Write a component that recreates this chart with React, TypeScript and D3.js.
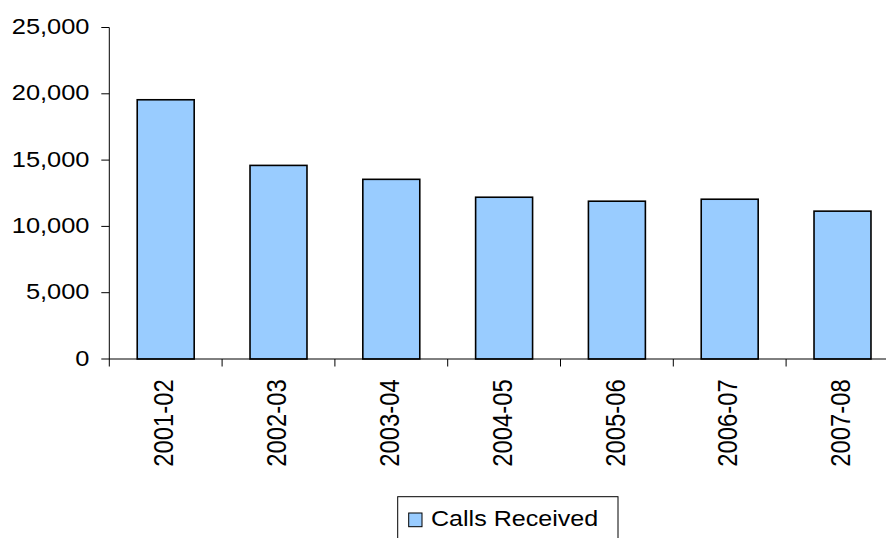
import React from "react";
import * as d3 from "d3";

// Calls received per financial year
const categories: string[] = ["2001-02", "2002-03", "2003-04", "2004-05", "2005-06", "2006-07", "2007-08"];
const callsReceived: number[] = [19550, 14600, 13550, 12200, 11900, 12050, 11150];
const yTicks: number[] = [0, 5000, 10000, 15000, 20000, 25000];
const seriesName = "Calls Received";

const W = 886;
const H = 538;
const SX = 1.14; // horizontal text stretch
const FONT = "'Liberation Sans', Arial, Helvetica, sans-serif";

export default function App() {
  const left = 109.3;
  const step = 112.8;
  const x = d3
    .scaleBand<string>()
    .domain(categories)
    .range([left, left + step * categories.length])
    .paddingInner(0.495)
    .paddingOuter(0.2475);
  const y = d3.scaleLinear().domain([0, 25000]).range([359, 27.5]);
  const fmt = d3.format(",");
  const y0 = y(0);

  return (
    <svg
      width={W}
      height={H}
      style={{ position: "absolute", left: 0, top: 0, display: "block", background: "#fff" }}
      fontFamily={FONT}
    >
      {/* bars */}
      {categories.map((c, i) => (
        <rect
          key={c}
          x={x(c)!}
          y={y(callsReceived[i])}
          width={x.bandwidth()}
          height={y0 - y(callsReceived[i])}
          fill="#99ccff"
          stroke="#000"
          strokeWidth={1.6}
        />
      ))}

      {/* y axis */}
      <line x1={left} x2={left} y1={y(25000)} y2={y0} stroke="#000" strokeWidth={1} />
      {yTicks.map((t) => (
        <g key={t}>
          <line x1={left - 8} x2={left} y1={y(t)} y2={y(t)} stroke="#000" strokeWidth={1} />
          <text
            transform={`translate(${89.5},${y(t) + 6.5}) scale(${SX},1)`}
            textAnchor="end"
            fontSize={22.3}
            fill="#000"
          >
            {fmt(t)}
          </text>
        </g>
      ))}

      {/* x axis */}
      <line x1={left} x2={W} y1={y0} y2={y0} stroke="#000" strokeWidth={1} />
      {categories.map((c, i) => {
        const tx = left + step * i;
        const cx = x(c)! + x.bandwidth() / 2;
        return (
          <g key={c}>
            <line x1={tx} x2={tx} y1={y0} y2={y0 + 7.5} stroke="#000" strokeWidth={1} />
            <text
              transform={`translate(${cx + 7.6},${379.3}) scale(${SX},1) rotate(-90)`}
              textAnchor="end"
              fontSize={23.8}
              fill="#000"
            >
              {c}
            </text>
          </g>
        );
      })}

      {/* legend */}
      <rect x={397.7} y={496.7} width={220.3} height={60} fill="#fff" stroke="#000" strokeWidth={1} />
      <rect x={408.7} y={513} width={13.3} height={13.7} fill="#99ccff" stroke="#000" strokeWidth={1} />
      <text
        transform={`translate(${431},${526.2}) scale(${SX},1)`}
        fontSize={22}
        fill="#000"
      >
        {seriesName}
      </text>
    </svg>
  );
}
